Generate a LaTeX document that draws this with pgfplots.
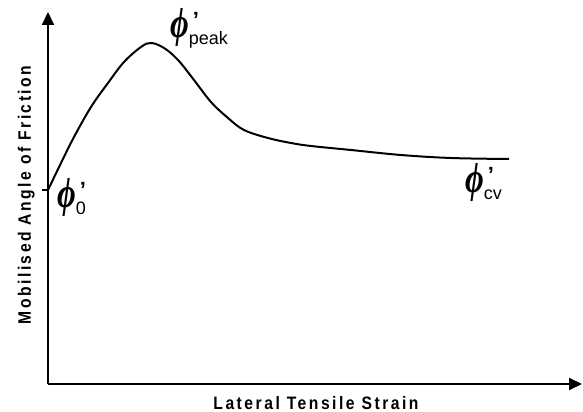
\documentclass[border=0pt]{standalone}
\usepackage{fontspec}
\setmainfont{Liberation Sans}
\newfontfamily\lblfont[FakeStretch=0.87,LetterSpace=14]{Liberation Sans}
\newfontfamily\phifont{Liberation Serif}
\usepackage{pgfplots}
\pgfplotsset{compat=1.18}
\usetikzlibrary{arrows.meta}

% curve (units = pixels of the reference, origin at the axis corner)
\pgfplotstableread{
x y
0 194
13 221
26 247
43 277
60 301
76 322
93 337
103 341
116 336
130 324
146 304
163 282
180 266
196 254
220 246
243 241
263 238
303 234
353 229
403 226
461 225
}\curve

\newcommand{\phil}[1]{\scalebox{0.95}[1.25]{\phifont\fontsize{34bp}{34bp}\selectfont\bfseries\itshape ϕ}%
  \makebox[0pt][l]{\hspace{4bp}\raisebox{10bp}{\fontsize{22bp}{22bp}\selectfont\bfseries ’}}%
  \raisebox{-7bp}{\fontsize{18bp}{18bp}\selectfont #1}}
\newcommand{\lbl}[1]{\fontsize{18bp}{20bp}\selectfont\lblfont\bfseries #1}

\begin{document}
\begin{tikzpicture}
\begin{axis}[
  scale only axis, width=534bp, height=372bp,
  xmin=0, xmax=534, ymin=0, ymax=372,
  axis lines=left,
  axis line style={line width=2bp, -{Triangle[length=13bp,width=12bp]}},
  xtick=\empty, ytick={194}, yticklabels={},
  tick align=outside, major tick length=6bp,
  tick style={line width=1.2bp, black},
  xlabel={\lbl{Lateral Tensile Strain}},
  ylabel={\lbl{Mobilised Angle of Friction}},
  xlabel style={at={(axis cs:268,-25)}, anchor=base},
  ylabel style={at={(axis cs:-17,189)}, anchor=base},
  clip=false,
]
\addplot[black, line width=2bp, smooth, tension=0.6] table[x=x,y=y] {\curve};
\node[anchor=base west, inner sep=0] at (axis cs:9,176) {\phil{0}};
\node[anchor=base west, inner sep=0] at (axis cs:122,346) {\phil{peak}};
\node[anchor=base west, inner sep=0] at (axis cs:417,191) {\phil{cv}};
\end{axis}
\pgfresetboundingbox
\path (-48bp,-28bp) rectangle (535bp,384bp);
\end{tikzpicture}
\end{document}
